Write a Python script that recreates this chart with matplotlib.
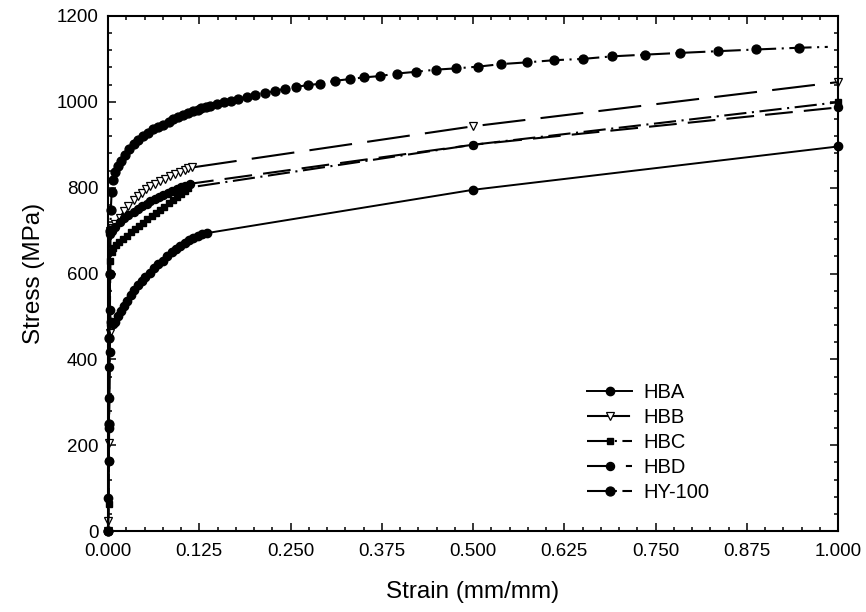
import matplotlib
matplotlib.use("Agg")
import matplotlib.pyplot as plt
from matplotlib.ticker import MultipleLocator, FormatStrFormatter

plt.rcParams['font.family'] = ['Liberation Sans', 'DejaVu Sans']
plt.rcParams['lines.scale_dashes'] = False

# ---------------- data ----------------
hba_strain = [0.0, 0.0004, 0.0008, 0.0012, 0.0017, 0.0022, 0.0026, 0.004, 0.007, 0.010,
              0.014, 0.018, 0.022, 0.026, 0.031, 0.036, 0.041, 0.046, 0.051, 0.057,
              0.063, 0.069, 0.075, 0.081, 0.087, 0.093, 0.099, 0.105, 0.111, 0.117,
              0.123, 0.129, 0.135, 0.5, 1.0]
hba_stress = [0, 77, 164, 239, 311, 416, 515, 486, 482, 488,
              500, 512, 524, 536, 549, 561, 573, 583, 592, 602,
              612, 621, 630, 641, 650, 658, 665, 672, 678, 683,
              687, 691, 694, 795, 896]

hbb_strain = [0.0, 0.0006, 0.0014, 0.0022, 0.003, 0.006, 0.010, 0.016, 0.022, 0.028,
              0.035, 0.041, 0.046, 0.052, 0.058, 0.064, 0.071, 0.078, 0.085, 0.092,
              0.099, 0.105, 0.110, 0.115, 0.5, 1.0]
hbb_stress = [0, 23, 204, 461, 698, 705, 715, 730, 745, 758,
              771, 780, 788, 796, 803, 809, 815, 821, 827, 832,
              837, 841, 845, 847, 943, 1046]

hbc_strain = [0.0, 0.0007, 0.0015, 0.0025, 0.0032, 0.005, 0.007, 0.011, 0.015, 0.020,
              0.026, 0.032, 0.037, 0.043, 0.048, 0.054, 0.060, 0.066, 0.071, 0.077,
              0.083, 0.089, 0.094, 0.100, 0.105, 0.110, 0.5, 1.0]
hbc_stress = [0, 63, 311, 484, 630, 650, 660, 667, 673, 680,
              688, 696, 703, 711, 718, 726, 734, 742, 748, 756,
              764, 772, 779, 786, 793, 800, 900, 999]

hbd_strain = [0.0, 0.0008, 0.0016, 0.0026, 0.003, 0.006, 0.010, 0.016, 0.022, 0.028,
              0.035, 0.041, 0.047, 0.053, 0.058, 0.064, 0.070, 0.076, 0.082, 0.088,
              0.094, 0.100, 0.106, 0.112, 0.5, 1.0]
hbd_stress = [0, 164, 381, 600, 692, 700, 708, 721, 730, 736,
              743, 750, 757, 763, 768, 773, 778, 783, 788, 793,
              797, 801, 805, 809, 900, 987]

hy_strain = [0, 0.0010, 0.0020, 0.0028, 0.0034, 0.0038, 0.0050, 0.0073, 0.010, 0.014,
             0.018, 0.023, 0.029, 0.035, 0.041, 0.048, 0.055, 0.062, 0.069, 0.076,
             0.083, 0.089, 0.096, 0.103, 0.110, 0.117, 0.123, 0.128, 0.134, 0.140,
             0.149, 0.159, 0.169, 0.178, 0.190, 0.202, 0.215, 0.229, 0.242, 0.258,
             0.274, 0.290, 0.311, 0.331, 0.351, 0.372, 0.396, 0.422, 0.449, 0.477,
             0.507, 0.539, 0.574, 0.611, 0.650, 0.691, 0.736, 0.784, 0.835, 0.888,
             0.946, 0.986]
hy_stress = [0, 250, 450, 600, 700, 748, 790, 819, 836, 850,
             862, 877, 890, 901, 911, 920, 928, 936, 942, 947,
             953, 959, 964, 969, 974, 978, 982, 985, 988, 991,
             996, 1000, 1003, 1007, 1011, 1016, 1021, 1025, 1031, 1035,
             1039, 1042, 1049, 1053, 1057, 1060, 1066, 1070, 1075, 1078,
             1082, 1088, 1092, 1097, 1100, 1106, 1110, 1114, 1118, 1122,
             1126, 1128]

x_ticks = [0.0, 0.125, 0.25, 0.375, 0.5, 0.625, 0.75, 0.875, 1.0]
y_ticks = [0, 200, 400, 600, 800, 1000, 1200]

# ---------------- figure ----------------
fig = plt.figure(figsize=(8.66, 6.12), dpi=100)
ax = fig.add_axes([108/866, 1 - 531/612, 730/866, 515/612])

k = dict(color='black', clip_on=False)
ax.plot(hba_strain, hba_stress, linestyle='-', lw=1.4, marker='o', ms=6.0,
        label='HBA', **k)
ax.plot(hbb_strain, hbb_stress, linestyle=(0, (31, 11)), lw=1.5, marker='v', ms=5.5,
        mfc='white', mew=0.9, label='HBB', **k)
ax.plot(hbc_strain, hbc_stress, linestyle=(0, (16, 4, 1.5, 4)), lw=1.5, marker='s', ms=5.0,
        label='HBC', **k)
ax.plot(hbd_strain, hbd_stress, linestyle=(0, (20, 8)), lw=1.5, marker='o', ms=5.8,
        label='HBD', **k)
ax.plot(hy_strain, hy_stress, linestyle=(0, (16, 4, 1.5, 4)), lw=1.5, marker='o', ms=6.4,
        markevery=slice(0, len(hy_strain) - 1), label='HY-100', **k)

ax.set_xlim(0, 1.0)
ax.set_ylim(0, 1200)
ax.set_xticks(x_ticks)
ax.set_yticks(y_ticks)
ax.xaxis.set_major_formatter(FormatStrFormatter('%.3f'))
ax.xaxis.set_minor_locator(MultipleLocator(0.025))
ax.yaxis.set_minor_locator(MultipleLocator(40))
ax.tick_params(which='both', direction='in', top=True, right=True, width=1.1)
ax.tick_params(which='major', length=6, labelsize=13.5)
ax.tick_params(axis='x', which='major', pad=9)
ax.tick_params(axis='y', which='major', pad=7)
ax.tick_params(which='minor', length=3)
for s in ax.spines.values():
    s.set_linewidth(1.5)

ax.set_xlabel('Strain (mm/mm)', fontsize=17.5, labelpad=15)
ax.set_ylabel('Stress (MPa)', fontsize=17.5, labelpad=8)

ax.legend(loc='upper left', bbox_to_anchor=(0.656, 0.287), frameon=False,
          fontsize=14.5, handlelength=2.25, handletextpad=0.55, labelspacing=0.3,
          borderpad=0, borderaxespad=0, numpoints=1)

fig.savefig('out.png', dpi=100)
